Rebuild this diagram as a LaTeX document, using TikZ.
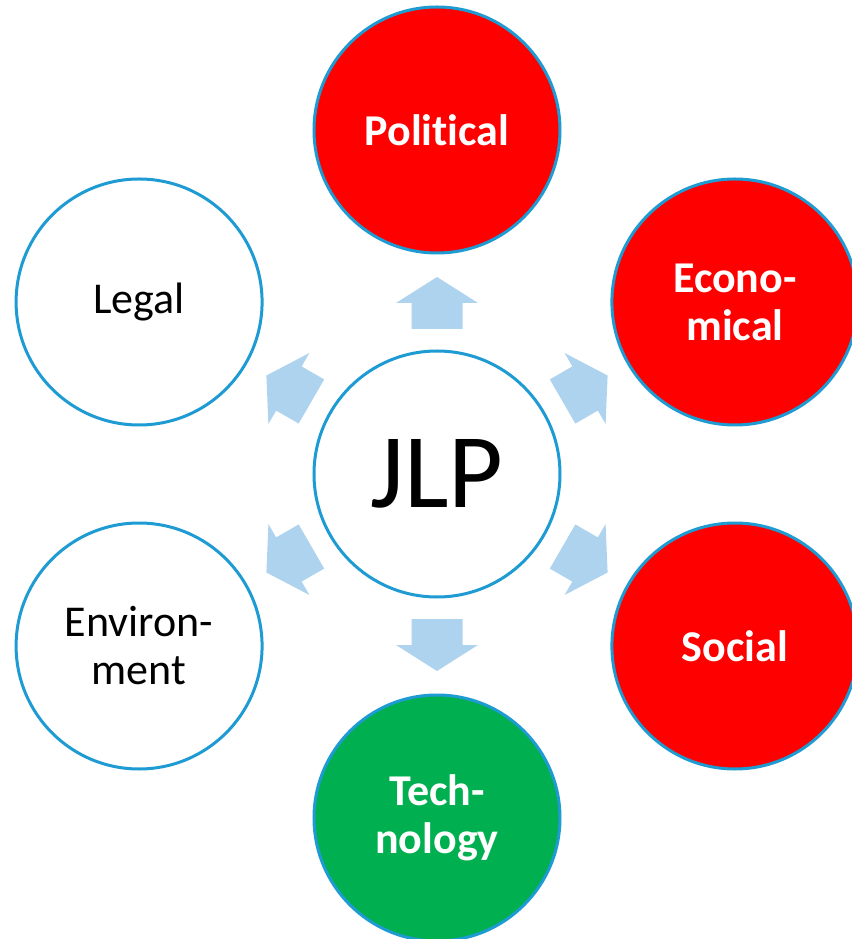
\documentclass[tikz,border=0pt]{standalone}
\usepackage{fontspec}
\setmainfont[Ligatures=NoCommon]{Carlito}
\definecolor{ringblue}{RGB}{30,155,210}
\definecolor{arrowblue}{RGB}{174,211,238}
\definecolor{hotred}{RGB}{255,0,0}
\definecolor{techgreen}{RGB}{0,176,80}
\tikzset{
  x=1pt, y=1pt,
  ring/.style={circle, draw=ringblue, line width=3pt, inner sep=0pt,
    minimum size=246pt, align=center,
    font=\fontsize{44}{48}\selectfont},
  plainring/.style={ring, fill=white, text=black},
  redring/.style={ring, fill=hotred, text=white, font=\fontsize{44}{48}\selectfont\bfseries},
  greenring/.style={ring, fill=techgreen, text=white, font=\fontsize{44}{48}\selectfont\bfseries},
  blockarrow/.pic={
    \fill[arrowblue] (0,-25.5) -- (26,-25.5) -- (26,-41) -- (52,0)
      -- (26,41) -- (26,25.5) -- (0,25.5) -- cycle;
  }
}
\begin{document}
\begin{tikzpicture}
\useasboundingbox (-437,-465) rectangle (414,474);
% hub
\node[plainring, font=\fontsize{106}{112}\selectfont] (jlp) at (0,0) {JLP};
% six surrounding factors on a hexagon
\node[redring]   (political)   at (90:344)  {Political};
\node[redring]   (economical)  at (30:344)  {Econo-\\mical};
\node[redring]   (social)      at (-30:344) {Social};
\node[greenring] (technology)  at (-90:344) {Tech-\\nology};
\node[plainring] (environment) at (210:344) {Environ-\\ment};
\node[plainring] (legal)       at (150:344) {Legal};
% block arrows pointing outwards from the hub
\foreach \a in {90,30,-30,-90,210,150}
  \pic[rotate=\a] at (\a:145) {blockarrow};
\end{tikzpicture}
\end{document}
